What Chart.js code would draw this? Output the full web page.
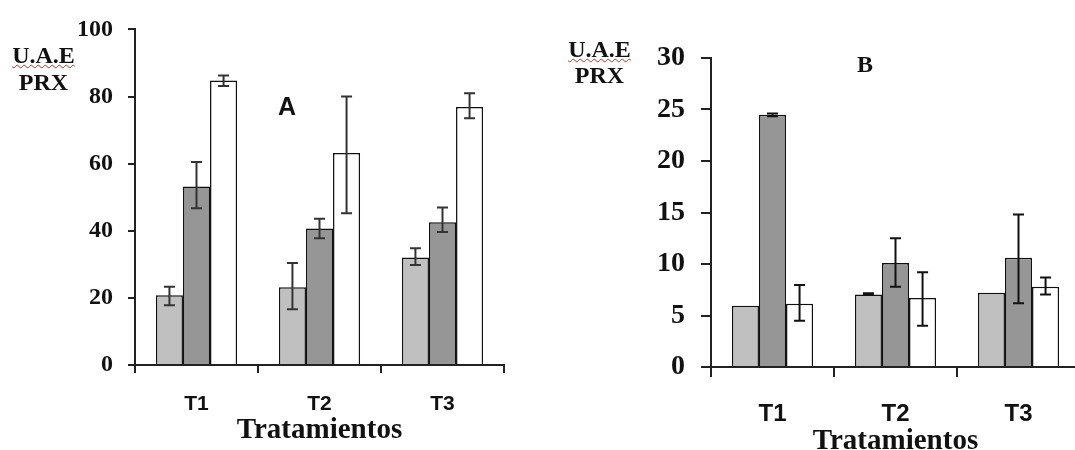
<!DOCTYPE html>
<html>
<head>
<meta charset="utf-8">
<script src="https://cdn.jsdelivr.net/npm/chart.js@4.4.1/dist/chart.umd.min.js"></script>
<style>
  body { margin: 0; background: #fff; width: 1075px; height: 450px; overflow: hidden; position: relative; }
  canvas { position: absolute; top: 0; }
  .lbl { position: absolute; font-family: "Liberation Serif", "Times New Roman", serif; font-weight: bold; font-size: 24px; line-height: 1; color: #111; text-align: center; white-space: nowrap; }
  .wavy { text-decoration: underline wavy #e02020; text-decoration-thickness: 1px; text-underline-offset: 1px; }
  .panel { font-family: "Liberation Sans", Arial, sans-serif; font-size: 25px; }
</style>
</head>
<body>
<canvas id="chartA" width="520" height="450" style="left:0"></canvas>
<canvas id="chartB" width="545" height="460" style="left:540px"></canvas>

<div class="lbl" style="left:0;width:87px;top:43px"><span class="wavy">U.A.E</span></div>
<div class="lbl" style="left:0;width:87px;top:70px">PRX</div>
<div class="lbl panel" style="left:267px;width:40px;top:94px">A</div>

<div class="lbl" style="left:556px;width:87px;top:37px"><span class="wavy">U.A.E</span></div>
<div class="lbl" style="left:556px;width:87px;top:63px">PRX</div>
<div class="lbl" style="left:845px;width:40px;top:52px">B</div>

<script>
const categories = ['T1', 'T2', 'T3'];
const seriesNames = ['Serie 1', 'Serie 2', 'Serie 3'];
const barColors = ['#c0c0c0', '#969696', '#ffffff'];

// panel A
const aTicks = [0, 20, 40, 60, 80, 100];
const aLight = [20.8, 23.2, 32.0];
const aDark = [53.2, 40.7, 42.5];
const aWhite = [84.8, 63.2, 76.9];
const aLightLow = [17.8, 16.6, 29.8];
const aLightHigh = [23.3, 30.4, 34.8];
const aDarkLow = [46.7, 37.8, 39.6];
const aDarkHigh = [60.5, 43.6, 46.9];
const aWhiteLow = [83.1, 45.2, 73.5];
const aWhiteHigh = [86.3, 80.0, 81.0];

// panel B
const bTicks = [0, 5, 10, 15, 20, 25, 30];
const bLight = [5.95, 7.05, 7.2];
const bDark = [24.5, 10.1, 10.6];
const bWhite = [6.15, 6.7, 7.8];
const bLightLow = [null, 7.0, null];
const bLightHigh = [null, 7.15, null];
const bDarkLow = [24.35, 7.8, 6.2];
const bDarkHigh = [24.6, 12.5, 14.8];
const bWhiteLow = [4.5, 4.0, 7.05];
const bWhiteHigh = [7.95, 9.2, 8.7];

// draws the error bars from errLow/errHigh using the y scale
const errorBars = {
  id: 'errorBars',
  afterDatasetsDraw(chart, args, opts) {
    const ctx = chart.ctx;
    const yScale = chart.scales.y;
    ctx.save();
    ctx.strokeStyle = opts.color;
    ctx.lineWidth = opts.width;
    chart.data.datasets.forEach((ds, i) => {
      const meta = chart.getDatasetMeta(i);
      meta.data.forEach((bar, j) => {
        const lo = ds.errLow[j];
        const hi = ds.errHigh[j];
        if (lo == null) return;
        const yLo = yScale.getPixelForValue(lo);
        const yHi = yScale.getPixelForValue(hi);
        const c = opts.cap;
        ctx.beginPath();
        ctx.moveTo(bar.x, yLo); ctx.lineTo(bar.x, yHi);
        ctx.moveTo(bar.x - c, yLo); ctx.lineTo(bar.x + c, yLo);
        ctx.moveTo(bar.x - c, yHi); ctx.lineTo(bar.x + c, yHi);
        ctx.stroke();
      });
    });
    ctx.restore();
  }
};

function panel(id, p) {
  return new Chart(document.getElementById(id), {
    type: 'bar',
    data: {
      labels: categories,
      datasets: p.values.map((vals, i) => ({
        label: seriesNames[i],
        data: vals,
        errLow: p.low[i],
        errHigh: p.high[i],
        backgroundColor: barColors[i],
        borderColor: '#111',
        borderWidth: 1.5,
        categoryPercentage: 0.66,
        barPercentage: 1
      }))
    },
    options: {
      responsive: false,
      animation: false,
      layout: { padding: p.padding },
      plugins: {
        legend: { display: false },
        tooltip: { enabled: false },
        errorBars: { color: p.errColor, width: 2, cap: 5.5 }
      },
      scales: {
        x: {
          grid: { drawOnChartArea: false, tickLength: p.xTickLen, tickColor: '#222', lineWidth: 2 },
          border: { color: '#222', width: 2 },
          ticks: {
            color: '#111', padding: p.xPad,
            font: { family: '"Liberation Sans", Arial, sans-serif', weight: 'bold', size: p.xFont, lineHeight: 1 }
          },
          title: {
            display: true, text: 'Tratamientos', color: '#111',
            font: { family: '"Liberation Serif", "Times New Roman", serif', weight: 'bold', size: 29, lineHeight: 1 },
            padding: { top: 0, bottom: p.titlePad }
          },
          afterFit: s => { s.height = p.xHeight; }
        },
        y: {
          min: p.ticks[0],
          max: p.ticks[p.ticks.length - 1],
          afterBuildTicks: s => { s.ticks = p.ticks.map(v => ({ value: v })); },
          grid: { drawOnChartArea: false, tickLength: p.yTickLen, tickColor: '#222', lineWidth: 2 },
          border: { color: '#222', width: 2 },
          ticks: {
            color: '#111', padding: p.yPad,
            font: { family: '"Liberation Serif", "Times New Roman", serif', weight: 'bold', size: p.yFont }
          },
          afterFit: s => { s.width = p.yWidth; }
        }
      }
    },
    plugins: [errorBars]
  });
}

panel('chartA', {
  values: [aLight, aDark, aWhite],
  low: [aLightLow, aDarkLow, aWhiteLow],
  high: [aLightHigh, aDarkHigh, aWhiteHigh],
  ticks: aTicks,
  padding: { top: 29, right: 16, bottom: 0, left: 0 },
  errColor: '#333',
  xTickLen: 8, xPad: 21, xFont: 21, xHeight: 85, titlePad: 5,
  yTickLen: 7, yPad: 15, yFont: 24, yWidth: 135
});

panel('chartB', {
  values: [bLight, bDark, bWhite],
  low: [bLightLow, bDarkLow, bWhiteLow],
  high: [bLightHigh, bDarkHigh, bWhiteHigh],
  ticks: bTicks,
  padding: { top: 58, right: 5, bottom: 0, left: 0 },
  errColor: '#111',
  xTickLen: 10, xPad: 25, xFont: 24, xHeight: 93, titlePad: 4,
  yTickLen: 10, yPad: 16, yFont: 28, yWidth: 171
});
</script>
</body>
</html>
